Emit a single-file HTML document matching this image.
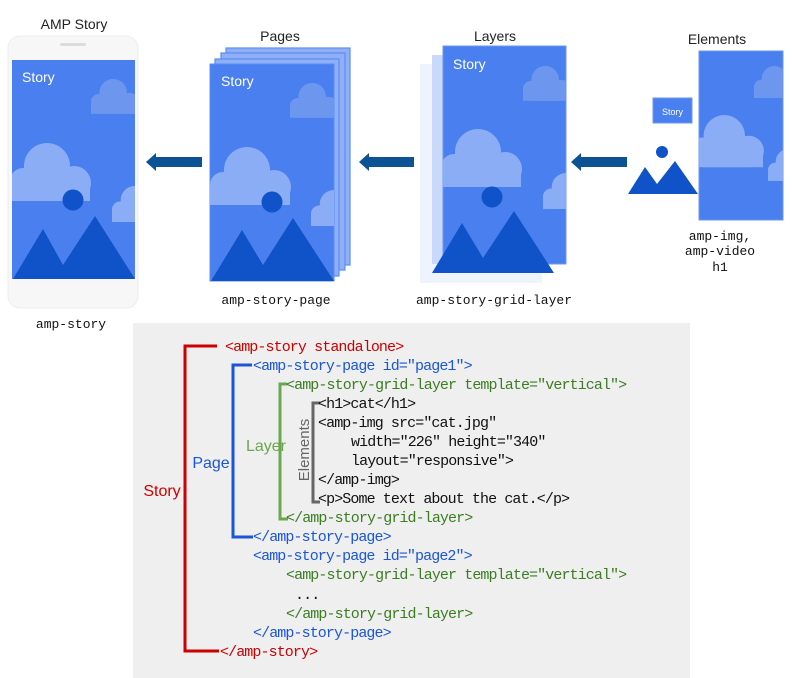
<!DOCTYPE html>
<html><head><meta charset="utf-8"><style>
html,body{margin:0;padding:0;background:#fff;}
svg{display:block;}
.sans{font-family:"Liberation Sans",sans-serif;}
.mono{font-family:"Liberation Mono",monospace;}
</style></head><body>
<svg width="792" height="678" viewBox="0 0 792 678" xmlns="http://www.w3.org/2000/svg">
<defs>
<g id="cloud">
<rect x="0" y="30" width="80" height="28" rx="14"/>
<circle cx="37" cy="23" r="23"/>
<circle cx="64" cy="40" r="17"/>
<circle cx="13" cy="38" r="13"/>
<rect x="0" y="38" width="80" height="20"/>
</g>
<clipPath id="c1"><rect x="12" y="60" width="123" height="219"/></clipPath>
<clipPath id="c2"><rect x="210" y="64" width="124" height="217"/></clipPath>
<clipPath id="c3"><rect x="443" y="46" width="123" height="218"/></clipPath>
<clipPath id="c4"><rect x="699" y="51" width="84" height="169"/></clipPath>
</defs>

<g class="sans" font-size="14" fill="#222" text-anchor="middle">
<text x="74" y="29">AMP Story</text>
<text x="280" y="41">Pages</text>
<text x="495" y="41">Layers</text>
<text x="717" y="44">Elements</text>
</g>

<!-- Phone -->
<rect x="8" y="36" width="130" height="272" rx="12" fill="#f7f7f7" stroke="#eeeeee"/>
<rect x="60" y="43" width="26" height="3" rx="1.5" fill="#dcdcdc"/>
<rect x="12" y="60" width="123" height="219" fill="#4a7ff0"/>
<g clip-path="url(#c1)">
<use href="#cloud" fill="#6d97ef" transform="translate(91,79) scale(0.6)"/>
<use href="#cloud" fill="#8aadf5" transform="translate(10,143) scale(1)"/>
<use href="#cloud" fill="#8aadf5" transform="translate(112,186) scale(0.62)"/>
<circle cx="73" cy="200" r="10.5" fill="#1052c8"/>
<polygon points="13,279 43,229 63,265 95,216 135,279" fill="#1052c8"/>
</g>
<text x="22" y="82" class="sans" font-size="14" fill="#fff">Story</text>
<text x="71" y="328" text-anchor="middle" class="mono" font-size="13" fill="#111">amp-story</text>

<g fill="#0b5394">
<polygon points="146,162 156,153 156,157 202,157 202,167 156,167 156,171"/>
<polygon points="359,162 369,153 369,157 414,157 414,167 369,167 369,171"/>
<polygon points="571,162 581,153 581,157 627,157 627,167 581,167 581,171"/>
</g>

<!-- Pages stack -->
<g fill="#8fb0f7" stroke="#5b8cf2" stroke-width="1.2">
<rect x="226" y="48" width="124" height="217"/>
<rect x="221" y="53" width="124" height="217"/>
<rect x="215" y="59" width="124" height="217"/>
</g>
<rect x="210" y="64" width="124" height="217" fill="#4a7ff0" stroke="#5b8cf2"/>
<g clip-path="url(#c2)">
<use href="#cloud" fill="#6d97ef" transform="translate(290,83) scale(0.6)"/>
<use href="#cloud" fill="#8aadf5" transform="translate(210,147) scale(1)"/>
<use href="#cloud" fill="#8aadf5" transform="translate(311,190) scale(0.62)"/>
<circle cx="272" cy="202" r="10.5" fill="#1052c8"/>
<polygon points="211,281 242,230 263,265 293,218 334,281" fill="#1052c8"/>
</g>
<text x="221" y="86" class="sans" font-size="14" fill="#fff">Story</text>
<text x="276" y="304" text-anchor="middle" class="mono" font-size="13" fill="#111">amp-story-page</text>

<!-- Layers -->
<rect x="420" y="64" width="122" height="219" fill="#eef3fe"/>
<rect x="432" y="55" width="118" height="209" fill="#c9d9fb"/>
<rect x="443" y="46" width="123" height="218" fill="#4a7ff0" stroke="#6d97ef"/>
<g clip-path="url(#c3)">
<use href="#cloud" fill="#6d97ef" transform="translate(523,66) scale(0.6)"/>
<use href="#cloud" fill="#8aadf5" transform="translate(441,129) scale(1)"/>
<use href="#cloud" fill="#8aadf5" transform="translate(543,173) scale(0.62)"/>
<circle cx="492" cy="197" r="10.5" fill="#1052c8"/>
</g>
<polygon points="432,273 462,223 483,258 514,211 554,273" fill="#1052c8"/>
<text x="453" y="69" class="sans" font-size="14" fill="#fff">Story</text>
<text x="494" y="304" text-anchor="middle" class="mono" font-size="13" fill="#111">amp-story-grid-layer</text>

<!-- Elements -->
<rect x="699" y="51" width="84" height="169" fill="#4a7ff0" stroke="#6d97ef"/>
<g clip-path="url(#c4)">
<use href="#cloud" fill="#6d97ef" transform="translate(754,66) scale(0.55)"/>
<use href="#cloud" fill="#8aadf5" transform="translate(691,115) scale(0.9)"/>
<use href="#cloud" fill="#8aadf5" transform="translate(768,149) scale(0.55)"/>
</g>
<rect x="653" y="98" width="39" height="25" fill="#4a7ff0" stroke="#6d97ef"/>
<text x="672.5" y="115" text-anchor="middle" class="sans" font-size="9" fill="#fff">Story</text>
<circle cx="662" cy="152" r="6" fill="#1052c8"/>
<polygon points="628,194 645,167 657,184 675,161 698,194" fill="#1052c8"/>
<g class="mono" font-size="13" fill="#111" text-anchor="middle">
<text x="720" y="240">amp-img,</text>
<text x="720" y="255">amp-video</text>
<text x="720" y="271">h1</text>
</g>

<!-- Code panel -->
<rect x="133" y="323" width="557" height="355" fill="#efefef"/>
<g fill="none" stroke-width="3">
<polyline points="217,346 185,346 185,651 219,651" stroke="#cc0000"/>
<polyline points="252,365 233,365 233,537 253,537" stroke="#1a56d6"/>
<polyline points="287,384 280,384 280,519 288,519" stroke="#6aa84f"/>
<polyline points="320,403 313,403 313,502 320,502" stroke="#666"/>
</g>
<g class="sans" font-size="16">
<text x="162" y="496" text-anchor="middle" fill="#cc0000">Story</text>
<text x="211" y="468" text-anchor="middle" fill="#1a56d6">Page</text>
<text x="266" y="451" text-anchor="middle" fill="#6aa84f">Layer</text>
<text transform="translate(309,450) rotate(-90)" text-anchor="middle" fill="#666" font-size="15">Elements</text>
</g>
<g class="mono" font-size="15" letter-spacing="-0.9" xml:space="preserve">
<text x="225" y="351" fill="#cc0000">&lt;amp-story standalone&gt;</text>
<text x="253" y="370" fill="#1a56d6">&lt;amp-story-page id="page1"&gt;</text>
<text x="286" y="389" fill="#3b7d23">&lt;amp-story-grid-layer template="vertical"&gt;</text>
<text x="318" y="408" fill="#111">&lt;h1&gt;cat&lt;/h1&gt;</text>
<text x="318" y="427" fill="#111">&lt;amp-img src="cat.jpg"</text>
<text x="351" y="446" fill="#111">width="226" height="340"</text>
<text x="351" y="465" fill="#111">layout="responsive"&gt;</text>
<text x="318" y="484" fill="#111">&lt;/amp-img&gt;</text>
<text x="318" y="503" fill="#111">&lt;p&gt;Some text about the cat.&lt;/p&gt;</text>
<text x="286" y="522" fill="#3b7d23">&lt;/amp-story-grid-layer&gt;</text>
<text x="253" y="541" fill="#1a56d6">&lt;/amp-story-page&gt;</text>
<text x="253" y="560" fill="#1a56d6">&lt;amp-story-page id="page2"&gt;</text>
<text x="286" y="579" fill="#3b7d23">&lt;amp-story-grid-layer template="vertical"&gt;</text>
<text x="295" y="599" fill="#111">...</text>
<text x="286" y="618" fill="#3b7d23">&lt;/amp-story-grid-layer&gt;</text>
<text x="253" y="637" fill="#1a56d6">&lt;/amp-story-page&gt;</text>
<text x="220" y="656" fill="#cc0000">&lt;/amp-story&gt;</text>
</g>
</svg>
</body></html>
